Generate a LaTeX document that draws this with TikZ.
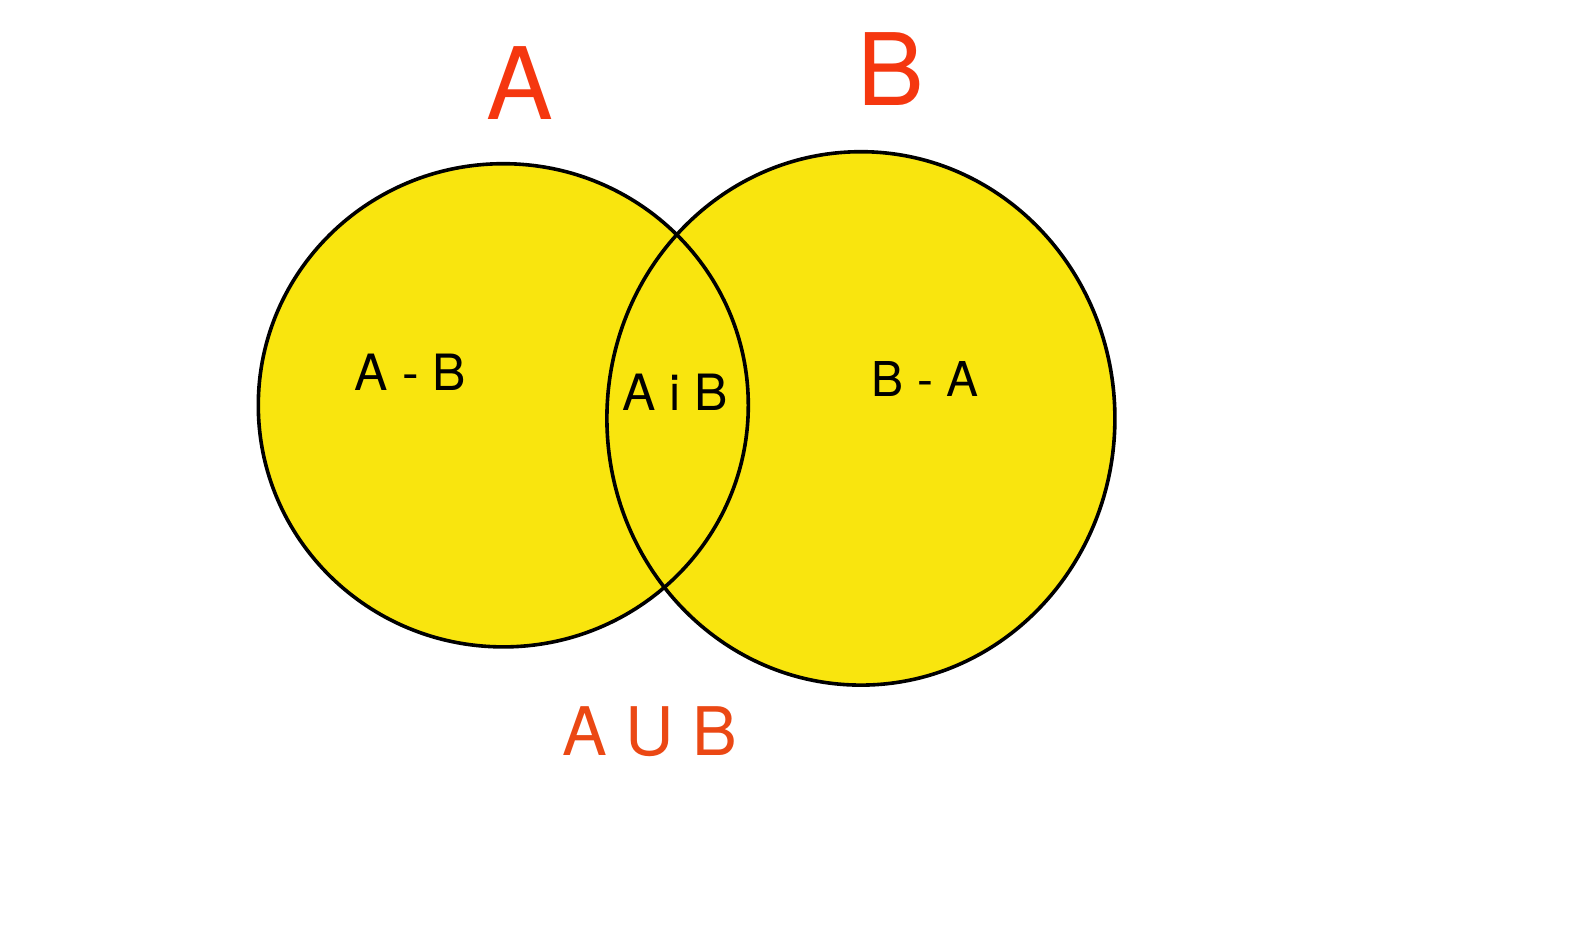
\documentclass[tikz,border=0pt]{standalone}
\usepackage{fontspec}
\setmainfont{TeX Gyre Heros}
\definecolor{vennyellow}{RGB}{249,229,14}
\definecolor{setred}{RGB}{245,55,15}
\definecolor{unionorange}{RGB}{235,72,20}
\begin{document}
\begin{tikzpicture}[x=1pt,y=-1pt,
  setlabel/.style={anchor=base,inner sep=0pt,text=setred,font=\fontsize{100}{100}\selectfont},
  regionlabel/.style={anchor=base,inner sep=0pt,text=black},
  outline/.style={draw=black,line width=3.6pt}]
\useasboundingbox[fill=white] (0,0) rectangle (1575,932);
% fills
\fill[vennyellow] (503.3,405.3) ellipse [x radius=245pt, y radius=241.6pt];
\fill[vennyellow] (860.9,418.4) ellipse [x radius=254pt, y radius=266.7pt];
% outlines
\path[outline] (503.3,405.3) ellipse [x radius=245pt, y radius=241.6pt];
\path[outline] (860.9,418.4) ellipse [x radius=254pt, y radius=266.7pt];
% labels
\node[setlabel] (la) at (520,119.3) {A};
\node[setlabel] (lb) at (891,105) {B};
\node[regionlabel,font=\fontsize{50}{50}\selectfont] (amb) at (410.5,390) {A - B};
\node[regionlabel,font=\fontsize{50}{50}\selectfont] (aib) at (675.5,410) {A i B};
\node[regionlabel,font=\fontsize{48}{48}\selectfont] (bma) at (925,396) {B - A};
\node[anchor=base,inner sep=0pt,text=unionorange,font=\fontsize{67}{67}\selectfont] (aub) at (650,755) {A U B};
\end{tikzpicture}
\end{document}
